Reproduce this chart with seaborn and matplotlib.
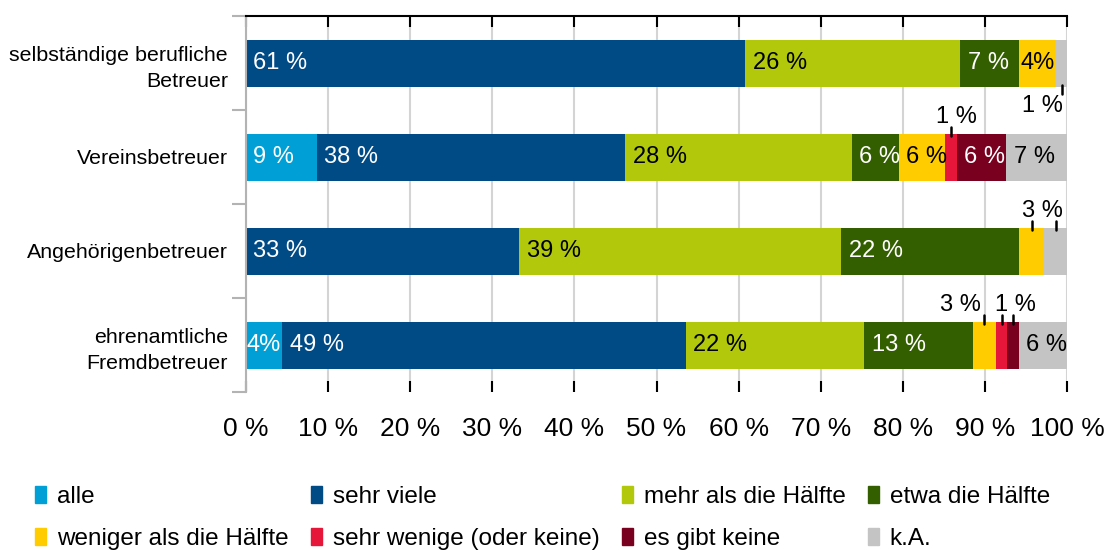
import numpy as np
import matplotlib.pyplot as plt
import seaborn as sns
from matplotlib.patches import Patch

sns.set_style("white")
plt.rcParams["font.family"] = ["Liberation Sans", "DejaVu Sans"]
plt.rcParams["text.color"] = "black"
plt.rcParams["xtick.labelcolor"] = "black"
plt.rcParams["ytick.labelcolor"] = "black"

groups = ["selbständige berufliche\nBetreuer", "Vereinsbetreuer",
          "Angehörigenbetreuer", "ehrenamtliche\nFremdbetreuer"]
series = ["alle", "sehr viele", "mehr als die Hälfte", "etwa die Hälfte",
          "weniger als die Hälfte", "sehr wenige (oder keine)", "es gibt keine", "k.A."]
colors = ["#00a0d6", "#004a86", "#b1c90a", "#345f00",
          "#ffcc00", "#e5163a", "#7a0020", "#c4c4c4"]
text_colors = ["white", "white", "black", "white", "black", "black", "white", "black"]

# values in % per group (top to bottom)
alle = [0, 8.6, 0, 4.4]
sehr_viele = [60.8, 37.6, 33.3, 49.2]
mehr = [26.2, 27.6, 39.2, 21.7]
etwa = [7.2, 5.7, 21.7, 13.2]
weniger = [4.5, 5.7, 3.0, 2.9]
sehr_wenige = [0, 1.4, 0, 1.3]
keine = [0, 6.0, 0, 1.4]
ka = [1.3, 7.4, 2.8, 5.9]

# small segments labelled outside the bar: (row, series indices, text x, text y offset)
outside = [(0, [7], 97.0, 0.46), (1, [5], 86.5, -0.43), (2, [4, 7], 97.0, -0.43),
           (3, [4], 87.0, -0.43), (3, [5, 6], 93.7, -0.43)]


def lab(v, tight=False):
    return f"{round(v)}%" if tight else f"{round(v)} %"


def draw():
    data = np.array([alle, sehr_viele, mehr, etwa, weniger, sehr_wenige, keine, ka])
    cum = np.cumsum(data, axis=0)
    left = cum - data

    fig = plt.figure(figsize=(11.09, 5.5), dpi=100)
    ax = fig.add_axes([246 / 1109, 158 / 550, 821 / 1109, 376 / 550])

    # stacked bars: draw cumulative totals from the last series to the first
    for i in range(len(series) - 1, -1, -1):
        sns.barplot(x=cum[i], y=groups, order=groups, orient="h", color=colors[i],
                    width=0.5, saturation=1, linewidth=0, ax=ax, zorder=2)

    for i in range(len(series)):
        for r in range(len(groups)):
            v = data[i, r]
            if v < 3.5:
                continue
            tight = v < 5
            ax.text(left[i, r] + (0.1 if tight else 0.9), r, lab(v, tight),
                    va="center", ha="left", color=text_colors[i], fontsize=17, zorder=3)

    for r, idxs, tx, dy in outside:
        ax.text(tx, r + dy, lab(data[idxs[0], r]), ha="center", va="center",
                fontsize=17, color="black", zorder=3)
        for i in idxs:
            xc = left[i, r] + data[i, r] / 2
            if dy > 0:
                ax.plot([xc, xc], [r + 0.23, r + 0.33], color="black", lw=1.8, zorder=4)
            else:
                ax.plot([xc, xc], [r - 0.32, r - 0.22], color="black", lw=1.8, zorder=4)

    ax.set_xlim(0, 100)
    ax.set_ylim(3.5, -0.5)
    ax.set_xlabel("")
    ax.set_ylabel("")
    ax.set_xticks(range(0, 101, 10))
    ax.set_xticklabels([f"{t} %" for t in range(0, 101, 10)], fontsize=19)
    ax.xaxis.grid(True, color="#d4d4d4", lw=1.5)
    ax.yaxis.grid(False)
    ax.set_axisbelow(True)
    ax.tick_params(axis="x", direction="in", top=True, bottom=True, length=8,
                   width=1.5, color="black", pad=18)

    ax.set_yticks([-0.5, 0.5, 1.5, 2.5, 3.5])
    ax.set_yticklabels([])
    ax.set_yticks(range(len(groups)), minor=True)
    ax.set_yticklabels(groups, minor=True, fontsize=15.4)
    for t in ax.get_yticklabels(minor=True):
        t.set_linespacing(1.45)
    ax.tick_params(axis="y", which="major", direction="out", length=10,
                   width=1.5, color="#b3b3b3", left=True)
    ax.tick_params(axis="y", which="minor", length=0, pad=13)

    ax.spines["right"].set_visible(False)
    ax.spines["bottom"].set_visible(False)
    ax.spines["top"].set_color("black")
    ax.spines["top"].set_linewidth(1.5)
    ax.spines["left"].set_color("#b3b3b3")
    ax.spines["left"].set_linewidth(1.5)

    handles = [Patch(color=c, label=s) for c, s in zip(colors, series)]
    order = [0, 4, 1, 5, 2, 6, 3, 7]
    fig.legend(handles=[handles[i] for i in order], loc="upper left",
               bbox_to_anchor=(35 / 1109, 1 - 486 / 550), ncol=4, frameon=False,
               fontsize=17.5, handlelength=0.45, handleheight=0.7, handletextpad=0.45,
               columnspacing=0.92, labelspacing=0.82, borderpad=0, borderaxespad=0)

    fig.savefig("out.png", dpi=100)


draw()
